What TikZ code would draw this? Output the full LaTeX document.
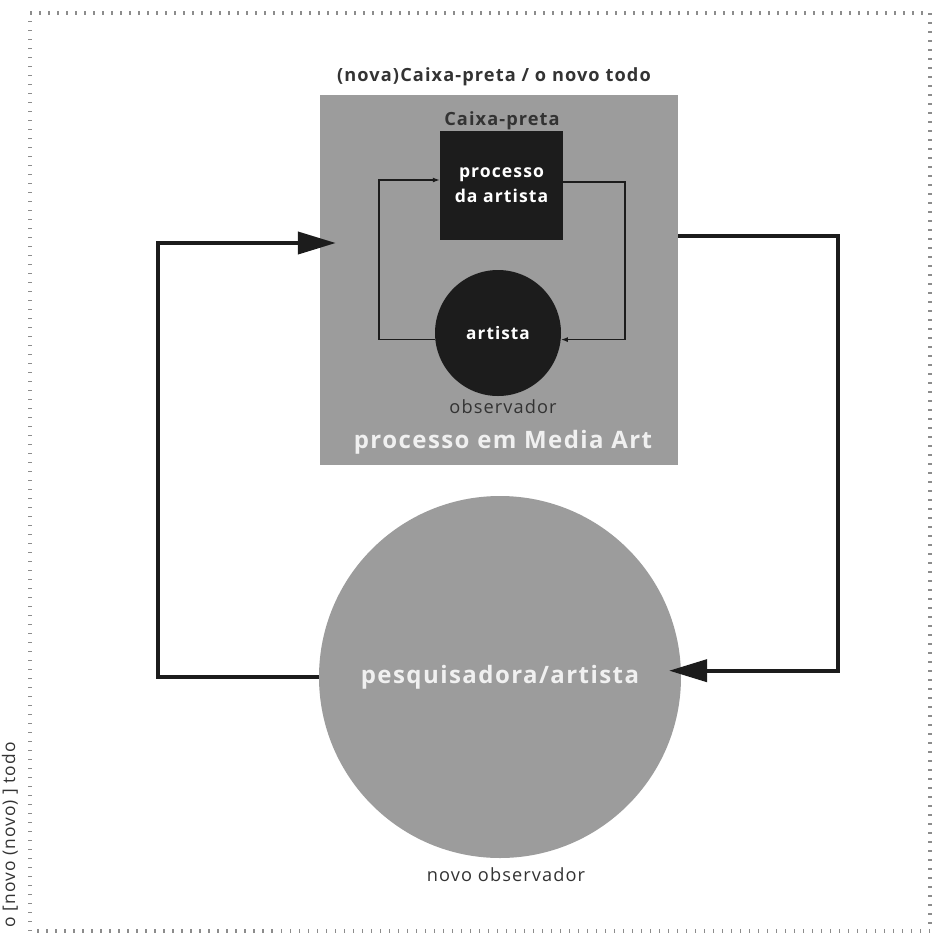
\documentclass[tikz,border=0pt]{standalone}
\usepackage{fontspec}
\setmainfont{Open Sans}[LetterSpace=6]
\usetikzlibrary{arrows.meta}
\usetikzlibrary{positioning}
\definecolor{boxgray}{HTML}{9C9C9C}
\definecolor{inkblack}{HTML}{1C1C1C}
\definecolor{darktext}{HTML}{333333}
\tikzset{
outer frame/.style={ % dotted border round the whole picture
draw=gray!90,
line width=4pt,
dash pattern=on 1.5pt off 7.5pt},
media box/.style={ % the grey box (nova caixa-preta)
fill=boxgray,
inner sep=0pt,
minimum width=358pt,
minimum height=370pt},
black box/.style={ % the artist's process
fill=inkblack,
text=white,
font=\fontsize{17.6}{25}\selectfont\bfseries,
align=center,
inner sep=0pt,
minimum width=123pt,
minimum height=109pt},
black dot/.style={ % the artist
circle,
fill=inkblack,
text=white,
font=\fontsize{17.2}{18}\selectfont\bfseries,
inner sep=0pt,
minimum size=126pt},
grey dot/.style={ % the researcher
circle,
fill=boxgray,
text=white!94!black,
font=\fontsize{24}{26}\selectfont\bfseries,
inner sep=0pt,
minimum size=362pt},
caption/.style={ % small dark labels
text=darktext,
font=\fontsize{18.2}{20}\selectfont},
thin loop/.style={ % inner feedback loop
draw=inkblack,
line width=1.3pt,
-{Latex[length=7pt,width=5pt]}},
thick loop/.style={ % outer feedback loop
draw=inkblack,
line width=4pt,
line join=miter,
-{Triangle[length=38pt,width=22pt]}}}
\begin{document}
\begin{tikzpicture}[x=1pt,y=-1pt]
	\useasboundingbox (0,0) rectangle (933,938);
	\draw[outer frame] (30,13) -- (930,13) -- (930,931) -- (30,931) -- cycle;
	\node[rotate=90, anchor=west, caption, font=\fontsize{17.4}{19}\selectfont] (whole) at (10,931) {o [novo (novo) ] todo};
	\node[media box] (mediaart) at (499,280) {};
	\node[caption, font=\fontsize{18.2}{20}\selectfont\bfseries] (title) at (494,77) {(nova)Caixa-preta / o novo todo};
	\node[caption, font=\fontsize{18.2}{20}\selectfont\bfseries] (caixa) at (502,121) {Caixa-preta};
	\node[black box] (processo) at (501.5,185) {processo\\da artista};
	\node[black dot] (artista) at (498,333) {artista};
	\node[caption] (observador) at (503,407) {observador};
	\node[text=white!94!black, font=\fontsize{24}{26}\selectfont\bfseries] (media) at (503,442) {processo em Media Art};
	\node[grey dot] (pesq) at (500,677) {pesquisadora/artista};
	\node[caption] (novo) at (506,875) {novo observador};
	\coordinate (lloop) at (379,180);
	\coordinate (rloop) at (625,182);
	\coordinate (ltop) at (158,243);
	\coordinate (rtop) at (838,236);
	\draw[thin loop] (artista.186) -| (lloop) -- (processo.west |- lloop);
	\draw[thin loop] (processo.east |- rloop) -- (rloop) |- (artista.-6);
	\draw[thick loop, shorten >=-12pt] (mediaart.east |- rtop) -- (rtop) |- (pesq.2);
	\draw[thick loop, shorten >=-16pt] (pesq.west) -| (ltop) -- (mediaart.west |- ltop);
\end{tikzpicture}
\end{document}
